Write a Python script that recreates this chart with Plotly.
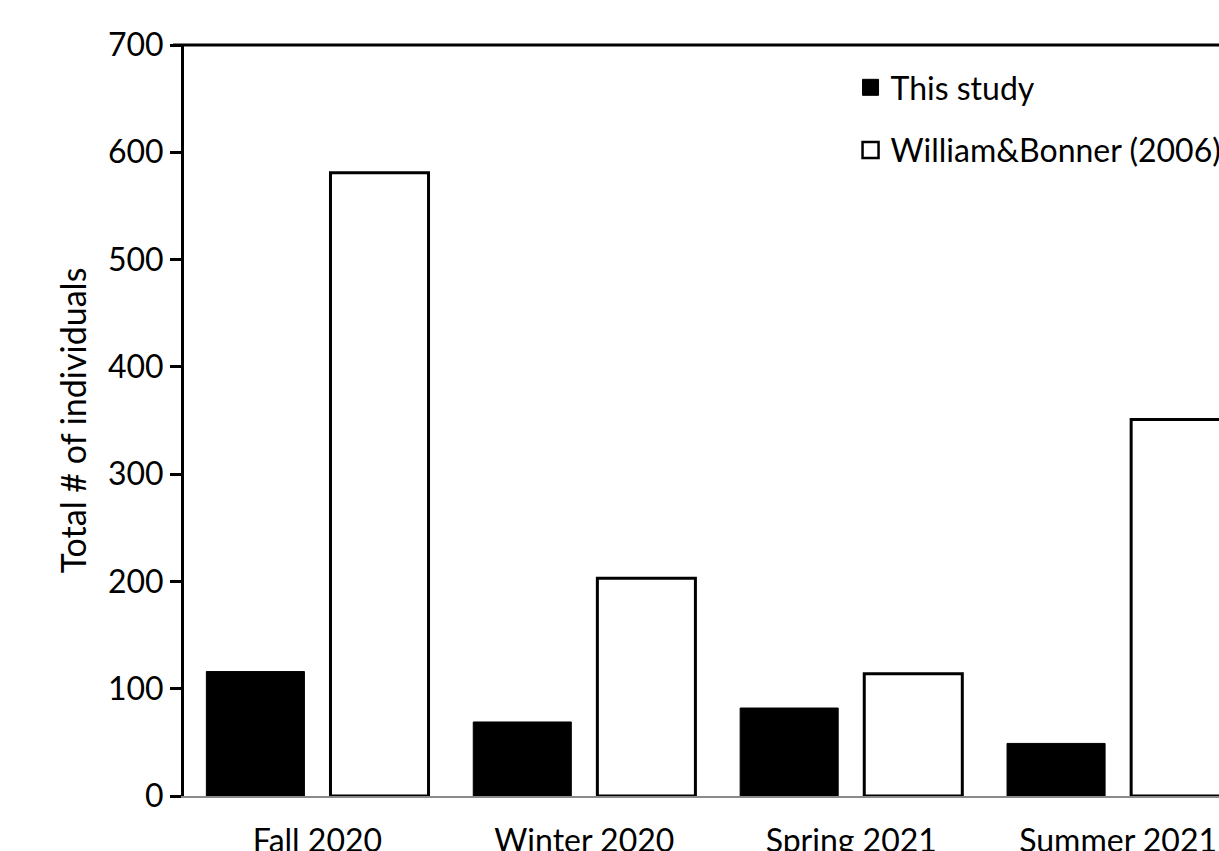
import plotly.graph_objects as go

categories = ["Fall 2020", "Winter 2020", "Spring 2021", "Summer 2021"]
this_study = [116, 69, 82, 49]
william_bonner = [581, 203, 114, 351]
series_names = ["This study", "William&Bonner (2006)"]
y_ticks = [0, 100, 200, 300, 400, 500, 600, 700]

FONT = "Lato"

fig = go.Figure()
fig.add_trace(go.Bar(
    x=categories, y=this_study, name=series_names[0], showlegend=False,
    marker=dict(color="black", line=dict(color="black", width=1)),
))
fig.add_trace(go.Bar(
    x=categories, y=william_bonner, name=series_names[1], showlegend=False,
    marker=dict(color="white", line=dict(color="black", width=3)),
))
# legend entries with larger square symbols
fig.add_trace(go.Scatter(
    x=[None], y=[None], mode="markers", name=series_names[0], legendgroup="a",
    marker=dict(symbol="square", size=24, color="black", line=dict(color="black", width=1)),
))
fig.add_trace(go.Scatter(
    x=[None], y=[None], mode="markers", name=series_names[1], legendgroup="b",
    marker=dict(symbol="square", size=21, color="white", line=dict(color="black", width=2.5)),
))

fig.update_layout(
    width=1219, height=851,
    margin=dict(l=184, r=0, t=45, b=55, autoexpand=False),
    plot_bgcolor="white", paper_bgcolor="white",
    barmode="group", bargap=0.07, bargroupgap=0.21,
    font=dict(family=FONT, color="black", size=32),
    showlegend=True,
    legend=dict(
        x=0.644, y=0.98, xanchor="left", yanchor="top",
        bgcolor="rgba(0,0,0,0)", font=dict(size=32, family=FONT),
        itemsizing="trace", tracegroupgap=18, itemwidth=30,
    ),
    shapes=[dict(type="line", xref="paper", yref="paper", x0=-0.0106, x1=1, y0=1, y1=1,
                 line=dict(color="black", width=3))],
)

fig.update_xaxes(
    type="category", range=[-0.5, 3.378],
    showline=True, linecolor="#8a8a8a", linewidth=2, mirror=False,
    ticks="outside", ticklen=16, tickcolor="rgba(0,0,0,0)",
    tickfont=dict(size=32, family=FONT), showgrid=False, automargin=False,
)
fig.update_yaxes(
    range=[0, 700], tickvals=y_ticks,
    showline=True, linecolor="black", linewidth=3,
    ticks="outside", ticklen=11, tickwidth=3, tickcolor="black",
    tickfont=dict(size=32, family=FONT), showgrid=False, zeroline=False,
    title=dict(text="Total # of individuals", font=dict(size=34, family=FONT), standoff=12),
    automargin=False,
)

fig.write_html(
    "out.html",
    config={"displayModeBar": False, "responsive": False},
    post_script="document.body.style.margin='0px';document.body.style.overflow='hidden';",
)
